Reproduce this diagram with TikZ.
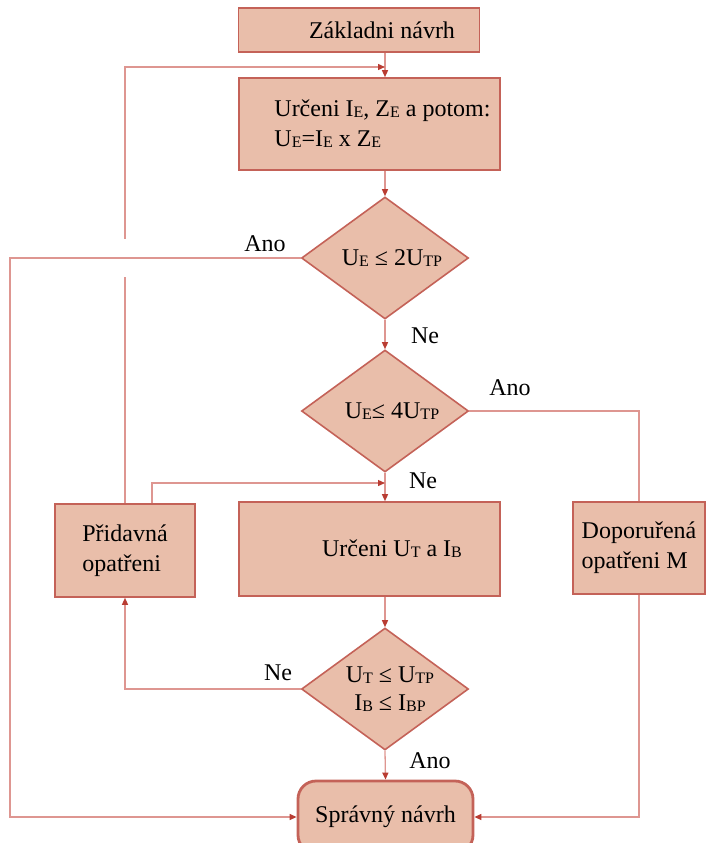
\documentclass[tikz,border=0pt]{standalone}
\usepackage{fontspec}
\setmainfont{Liberation Serif}
\usetikzlibrary{shapes.geometric,arrows.meta}
\definecolor{boxfill}{RGB}{233,190,170}
\definecolor{boxline}{RGB}{196,98,88}
\definecolor{conline}{RGB}{222,150,145}
\definecolor{tipred}{RGB}{185,60,50}
\newcommand{\lo}[1]{\raisebox{-0.8pt}{\fontsize{16}{16}\selectfont #1}}

\tikzset{
  blok/.style={rectangle, draw=boxline, fill=boxfill, line width=1.6pt, inner sep=0pt},
  rozhod/.style={diamond, draw=boxline, fill=boxfill, line width=1.6pt, inner sep=0pt,
    aspect=1.37, minimum width=167pt, minimum height=122pt},
  konec/.style={rectangle, rounded corners=18pt, draw=boxline, fill=boxfill, line width=2.8pt,
    minimum width=175pt, minimum height=72pt},
  spoj/.style={draw=conline, line width=1.3pt},
  sip/.style={spoj, -{Triangle[length=7pt,width=6pt,color=tipred]}},
  lab/.style={inner sep=0pt}
}

\begin{document}
\begin{tikzpicture}[x=1pt, y=-1pt, font=\fontsize{24}{30}\selectfont]
\useasboundingbox (0,0) rectangle (705,843);
\node[blok, minimum width=241pt, minimum height=44pt] (zn) at (359,30) {\hspace{46pt}Základni návrh};
\node[blok, minimum width=261pt, minimum height=92pt, align=left] (ur) at (369.5,124)
  {\hspace{26pt}Určeni I\lo{E}, Z\lo{E} a potom:\\\hspace{26pt}U\lo{E}=I\lo{E} x Z\lo{E}};
\node[rozhod] (d1) at (385,258) {\hspace{14pt}U\lo{E} ≤ 2U\lo{TP}};
\node[rozhod] (d2) at (385,411) {\hspace{14pt}U\lo{E}≤ 4U\lo{TP}};
\node[blok, minimum width=261pt, minimum height=94pt] (ut) at (369.5,549) {\hspace{45pt}Určeni U\lo{T} a I\lo{B}};
\node[blok, minimum width=140pt, minimum height=93pt, align=left] (pr) at (125,550.5) {Přidavná\\opatřeni};
\node[blok, minimum width=132pt, minimum height=92pt, align=left] (dop) at (639,548) {Doporuřená\\opatřeni M};
\node[rozhod, align=center, inner sep=-6pt, font=\fontsize{24}{28}\selectfont] (d3) at (385,689)
  {\hspace{10pt}U\lo{T} ≤ U\lo{TP}\\\hspace{10pt}I\lo{B} ≤ I\lo{BP}};
\node[konec] (sn) at (385.5,817) {Správný návrh};

\coordinate (m1) at (385,67);
\coordinate (m2) at (385,483);
\coordinate (c1) at (10,817);

\node[lab] (ano1) at (265,244) {Ano};
\node[lab] (ne1) at (425,336) {Ne};
\node[lab] (ano2) at (510,388) {Ano};
\node[lab] (ne2) at (423,481) {Ne};
\node[lab] (ne3) at (278,673) {Ne};
\node[lab] (ano3) at (430,761) {Ano};

\draw[sip] (zn.south -| d1) -- (ur.north -| d1);
\draw[sip] (pr.north) |- (m1);
\draw[white, line width=4pt] (pr.north |- d1.west) +(0,-19) -- +(0,19);
\draw[sip] (ur.south -| d1) -- (d1.north);
\draw[sip] (d1.west) -| (c1) -- (c1 -| sn.west);
\draw[sip] (d1.south) -- (d2.north);
\draw[spoj] (d2.east) -| (dop.north);
\draw[sip] (d2.south) -- (ut.north -| d2);
\draw[sip] ([xshift=27pt]pr.north) |- (m2);
\draw[sip] (dop.south) |- (c1 -| sn.east);
\draw[sip] (ut.south -| d3) -- (d3.north);
\draw[sip] (d3.west) -| (pr.south);
\draw[sip] (d3.south) -- (sn.north);
\end{tikzpicture}
\end{document}
